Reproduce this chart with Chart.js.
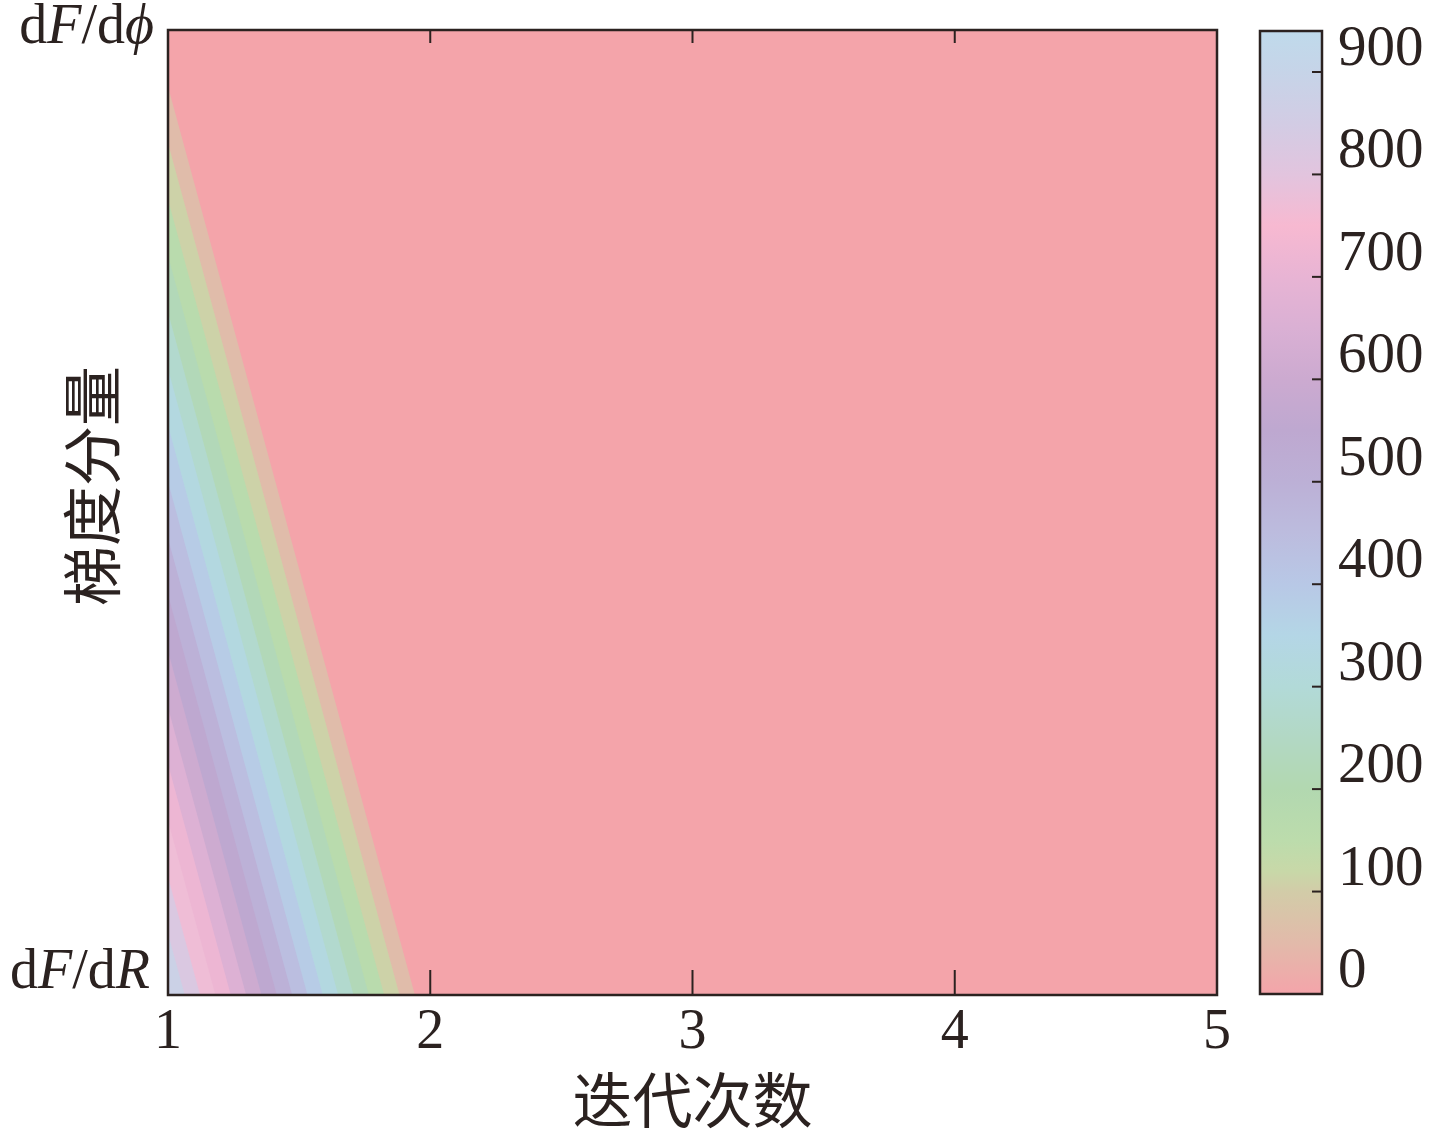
<!DOCTYPE html>
<html>
<head>
<meta charset="utf-8">
<script src="https://cdn.jsdelivr.net/npm/chart.js@4.4.0/dist/chart.umd.min.js"></script>
<style>
html, body { margin: 0; padding: 0; background: #fff; }
#wrap { position: relative; width: 1430px; height: 1132px; }
#main { position: absolute; left: 0; top: 0; }
#bar { position: absolute; left: 1250px; top: 0; }
</style>
</head>
<body>
<div id="wrap">
  <canvas id="main" width="1430" height="1132"></canvas>
  <canvas id="bar" width="180" height="1132"></canvas>
</div>
<script>
// grid of the filled contour: iterations along x, the two gradient components along y
var iterations = [1, 2, 3, 4, 5];
var componentLabels = ['dF/dR', 'dF/dϕ'];
var gradR = [940, 0, 0, 0, 0];    // row at dF/dR
var gradPhi = [0, 0, 0, 0, 0];    // row at dF/dϕ
var contourLevels = [0, 55, 110, 165, 220, 275, 330, 385, 440, 495, 550, 605, 660, 715, 770, 825, 880, 935];
var colorbarTicks = [0, 100, 200, 300, 400, 500, 600, 700, 800, 900];
var colorbarMax = 940;

// colormap stops
var cmapValues = [0, 50, 100, 120, 150, 200, 250, 300, 350, 400, 450, 500, 550, 600, 650, 700, 750, 800, 850, 900, 940];
var cmapColors = ['#F4A4AA', '#E2BAAA', '#D2CCA8', '#C8D8A8', '#BCDCAC', '#B2D8B0', '#B2D8C4', '#B2DAD8',
                  '#B4D6E6', '#B8C8E6', '#BCBCDE', '#BCB0D6', '#BEA8D0', '#CCAAD0', '#DAB0D4', '#E8B4D4',
                  '#F7B9D1', '#E2C4DE', '#D2CCE4', '#C6D4E8', '#BFDAEB'];

var ink = '#2b2220';
var serif = "'Liberation Serif', 'DejaVu Serif', serif";
var cjk = "'Noto Sans CJK SC', sans-serif";

function hexRgb(h) {
  return [parseInt(h.substr(1, 2), 16), parseInt(h.substr(3, 2), 16), parseInt(h.substr(5, 2), 16)];
}

function cmap(v) {
  if (v <= cmapValues[0]) return cmapColors[0];
  for (var i = 1; i < cmapValues.length; i++) {
    if (v <= cmapValues[i]) {
      var t = (v - cmapValues[i - 1]) / (cmapValues[i] - cmapValues[i - 1]);
      var a = hexRgb(cmapColors[i - 1]), b = hexRgb(cmapColors[i]);
      return 'rgb(' + a.map(function (c, k) { return Math.round(c + (b[k] - c) * t); }).join(',') + ')';
    }
  }
  return cmapColors[cmapColors.length - 1];
}

/**
 * keep the part of a triangle/polygon where z >= lvl
 */
function clipAbove(pts, lvl) {
  var out = [];
  for (var i = 0; i < pts.length; i++) {
    var a = pts[i], b = pts[(i + 1) % pts.length];
    var ina = a.z >= lvl, inb = b.z >= lvl;
    if (ina) out.push(a);
    if (ina !== inb) {
      var t = (lvl - a.z) / (b.z - a.z);
      out.push({ x: a.x + (b.x - a.x) * t, y: a.y + (b.y - a.y) * t, z: lvl });
    }
  }
  return out;
}

var contourPlugin = {
  id: 'contour',
  beforeDatasetsDraw: function (chart) {
    var ctx = chart.ctx, area = chart.chartArea;
    var xs = chart.scales.x, ys = chart.scales.y;
    var rows = [gradR, gradPhi];
    var tris = [];
    for (var i = 0; i < iterations.length - 1; i++) {
      var A = { x: iterations[i], y: 0, z: rows[0][i] };
      var B = { x: iterations[i + 1], y: 0, z: rows[0][i + 1] };
      var C = { x: iterations[i], y: 1, z: rows[1][i] };
      var D = { x: iterations[i + 1], y: 1, z: rows[1][i + 1] };
      tris.push([A, B, C], [B, D, C]);
    }
    ctx.save();
    ctx.beginPath();
    ctx.rect(area.left, area.top, area.right - area.left, area.bottom - area.top);
    ctx.clip();
    contourLevels.forEach(function (lvl, k) {
      ctx.fillStyle = cmap(lvl);
      ctx.beginPath();
      tris.forEach(function (t) {
        var p = k === 0 ? t : clipAbove(t, lvl);
        if (p.length < 3) return;
        p.forEach(function (q, j) {
          var px = xs.getPixelForValue(q.x), py = ys.getPixelForValue(q.y);
          if (j === 0) ctx.moveTo(px, py); else ctx.lineTo(px, py);
        });
        ctx.closePath();
      });
      ctx.fill();
    });
    ctx.restore();
  }
};

function drawMixed(ctx, parts, xRight, baseline, size) {
  var widths = parts.map(function (p) {
    ctx.font = (p[1] ? 'italic ' : '') + size + 'px ' + serif;
    return ctx.measureText(p[0]).width;
  });
  var x = xRight - widths.reduce(function (s, w) { return s + w; }, 0);
  ctx.textAlign = 'left';
  ctx.textBaseline = 'alphabetic';
  parts.forEach(function (p, i) {
    ctx.font = (p[1] ? 'italic ' : '') + size + 'px ' + serif;
    ctx.fillText(p[0], x, baseline);
    x += widths[i];
  });
}

var framePlugin = {
  id: 'frame',
  afterDraw: function (chart) {
    var ctx = chart.ctx, a = chart.chartArea;
    var xs = chart.scales.x, ys = chart.scales.y;
    ctx.save();
    ctx.strokeStyle = ink;
    ctx.fillStyle = ink;
    ctx.lineWidth = 2.5;
    ctx.strokeRect(a.left, a.top, a.right - a.left, a.bottom - a.top);
    ctx.lineWidth = 2;
    iterations.slice(1, -1).forEach(function (v) {
      var px = xs.getPixelForValue(v);
      ctx.beginPath();
      ctx.moveTo(px, a.bottom); ctx.lineTo(px, a.bottom - 25);
      ctx.moveTo(px, a.top); ctx.lineTo(px, a.top + 13);
      ctx.stroke();
    });
    // category labels of the y axis
    drawMixed(ctx, [['d', 0], ['F', 1], ['/d', 0], ['R', 1]], 150, ys.getPixelForValue(0) - 7, 56);
    drawMixed(ctx, [['d', 0], ['F', 1], ['/d', 0], ['ϕ', 1]], 154, ys.getPixelForValue(1) + 13, 56);
    // y axis title
    ctx.translate(92, 486);
    ctx.rotate(-Math.PI / 2);
    ctx.font = '60px ' + cjk;
    ctx.textAlign = 'center';
    ctx.textBaseline = 'middle';
    ctx.fillText('梯度分量', 0, 0);
    ctx.restore();
  }
};

new Chart(document.getElementById('main'), {
  type: 'scatter',
  data: { datasets: [{ data: [], showLine: false }] },
  options: {
    responsive: false,
    animation: false,
    layout: { padding: { left: 168, right: 213, top: 30, bottom: 0 } },
    plugins: { legend: { display: false }, tooltip: { enabled: false } },
    scales: {
      x: {
        type: 'linear', min: 1, max: 5,
        afterBuildTicks: function (s) { s.ticks = iterations.map(function (v) { return { value: v }; }); },
        ticks: { padding: 5, color: ink, maxRotation: 0, autoSkip: false, font: { family: serif, size: 56 } },
        grid: { display: false, drawTicks: false },
        border: { display: false },
        title: { display: true, text: '迭代次数', color: ink, font: { family: cjk, size: 60, lineHeight: 1 }, padding: { top: 0, bottom: 2 } },
        afterFit: function (s) { s.height = 137; s.paddingLeft = 0; s.paddingRight = 0; }
      },
      y: {
        type: 'linear', min: 0, max: 1,
        ticks: { display: false },
        grid: { display: false, drawTicks: false },
        border: { display: false },
        afterFit: function (s) { s.width = 0; s.paddingTop = 0; s.paddingBottom = 0; }
      }
    }
  },
  plugins: [contourPlugin, framePlugin]
});

var barPlugin = {
  id: 'barFrame',
  afterDraw: function (chart) {
    var ctx = chart.ctx, a = chart.chartArea, ys = chart.scales.y;
    ctx.save();
    ctx.strokeStyle = ink;
    ctx.lineWidth = 2;
    colorbarTicks.slice(1).forEach(function (v) {
      var py = ys.getPixelForValue(v);
      ctx.beginPath();
      ctx.moveTo(a.right - 10, py); ctx.lineTo(a.right, py);
      ctx.stroke();
    });
    ctx.lineWidth = 2.5;
    ctx.strokeRect(a.left, a.top, a.right - a.left, a.bottom - a.top);
    ctx.restore();
  }
};

new Chart(document.getElementById('bar'), {
  type: 'bar',
  data: {
    labels: [''],
    datasets: [{
      data: [[0, colorbarMax]],
      barPercentage: 1,
      categoryPercentage: 1,
      borderWidth: 0,
      backgroundColor: function (c) {
        var ch = c.chart, ys = ch.scales.y;
        if (!ch.chartArea || !ys) return cmapColors[0];
        var g = ch.ctx.createLinearGradient(0, ys.getPixelForValue(0), 0, ys.getPixelForValue(colorbarMax));
        cmapValues.forEach(function (v, i) { g.addColorStop(v / colorbarMax, cmapColors[i]); });
        return g;
      }
    }]
  },
  options: {
    responsive: false,
    animation: false,
    layout: { padding: { left: 10, right: 0, top: 31, bottom: 138 } },
    plugins: { legend: { display: false }, tooltip: { enabled: false } },
    scales: {
      x: { display: false },
      y: {
        position: 'right', min: 0, max: colorbarMax,
        afterBuildTicks: function (s) { s.ticks = colorbarTicks.map(function (v) { return { value: v }; }); },
        ticks: { labelOffset: -22, padding: 16, color: ink, autoSkip: false, font: { family: serif, size: 57 } },
        grid: { display: false, drawTicks: false },
        border: { display: false },
        afterFit: function (s) { s.width = 108; s.paddingTop = 0; s.paddingBottom = 0; }
      }
    }
  },
  plugins: [barPlugin]
});
</script>
</body>
</html>
